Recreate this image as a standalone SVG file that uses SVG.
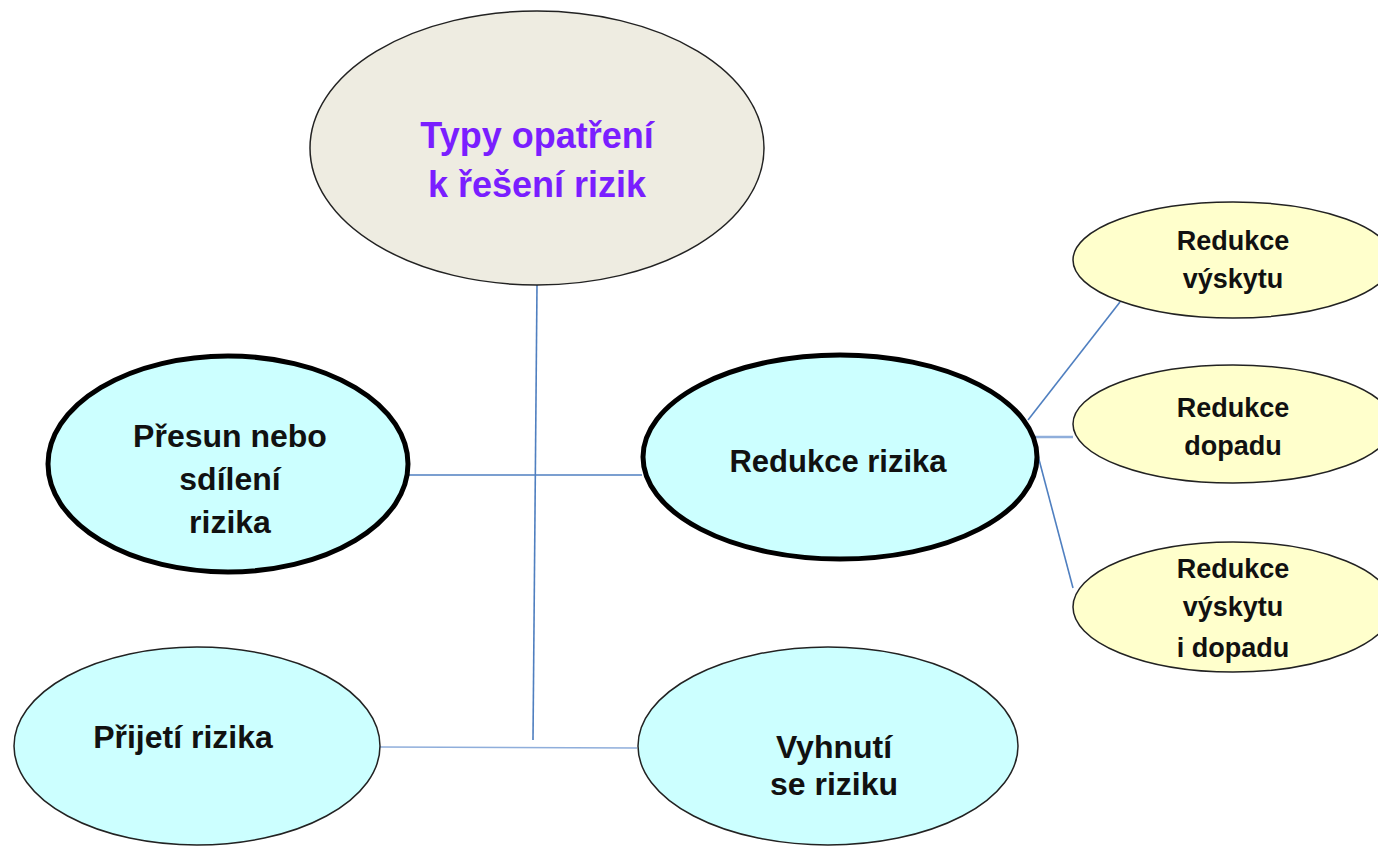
<svg xmlns="http://www.w3.org/2000/svg" width="1378" height="846" viewBox="0 0 1378 846">
<style>
.t{font-family:"Liberation Sans",Arial,sans-serif;font-weight:bold;text-anchor:middle;fill:#111}
.main{fill:#CCFFFF;stroke:#000;stroke-width:5}
.sec{fill:#CCFFFF;stroke:#222;stroke-width:1.5}
.sub{fill:#FFFFCC;stroke:#222;stroke-width:1.5}
.c{stroke:#4F7FC0;stroke-width:1.6;fill:none}
</style>
<rect width="1378" height="846" fill="#fff"/>
<g id="connectors">
<line class="c" x1="537" y1="285" x2="533" y2="740"/>
<line class="c" x1="409" y1="475" x2="642" y2="475"/>
<line class="c" x1="380" y1="747" x2="637" y2="748" stroke-width="2.2" style="stroke:#8FAEDB"/>
<line class="c" x1="1028" y1="420" x2="1120" y2="302"/>
<line class="c" x1="1035" y1="437" x2="1073" y2="437" style="stroke:#8FAEDB;stroke-width:2.5"/>
<line class="c" x1="1037" y1="452" x2="1073" y2="588"/>
</g>
<g id="root">
<ellipse cx="537" cy="148" rx="227" ry="137" fill="#EEECE1" stroke="#222" stroke-width="1.5"/>
<text class="t" x="537" y="148" font-size="36" style="fill:#7A1EFF">Typy opatření</text>
<text class="t" x="537" y="197" font-size="36" style="fill:#7A1EFF">k řešení rizik</text>
</g>
<g id="presun">
<ellipse class="main" cx="228" cy="464" rx="180" ry="108"/>
<text class="t" x="230" y="447" font-size="32">Přesun nebo</text>
<text class="t" x="230" y="490" font-size="32">sdílení</text>
<text class="t" x="230" y="533" font-size="32">rizika</text>
</g>
<g id="redukce">
<ellipse class="main" cx="840" cy="457" rx="197" ry="102"/>
<text class="t" x="838" y="472" font-size="31">Redukce rizika</text>
</g>
<g id="prijeti">
<ellipse class="sec" cx="197" cy="746" rx="183" ry="99"/>
<text class="t" x="183" y="748" font-size="32">Přijetí rizika</text>
</g>
<g id="vyhnuti">
<ellipse class="sec" cx="828" cy="746" rx="190" ry="99"/>
<text class="t" x="834" y="758" font-size="32">Vyhnutí</text>
<text class="t" x="834" y="795" font-size="32">se riziku</text>
</g>
<g id="red-vyskytu">
<ellipse class="sub" cx="1233" cy="260" rx="160" ry="58"/>
<text class="t" x="1233" y="250" font-size="27">Redukce</text>
<text class="t" x="1233" y="288" font-size="27">výskytu</text>
</g>
<g id="red-dopadu">
<ellipse class="sub" cx="1233" cy="424" rx="160" ry="59"/>
<text class="t" x="1233" y="417" font-size="27">Redukce</text>
<text class="t" x="1233" y="455" font-size="27">dopadu</text>
</g>
<g id="red-oboji">
<ellipse class="sub" cx="1233" cy="607" rx="160" ry="65"/>
<text class="t" x="1233" y="578" font-size="27">Redukce</text>
<text class="t" x="1233" y="616" font-size="27">výskytu</text>
<text class="t" x="1233" y="657" font-size="27">i dopadu</text>
</g>
</svg>
